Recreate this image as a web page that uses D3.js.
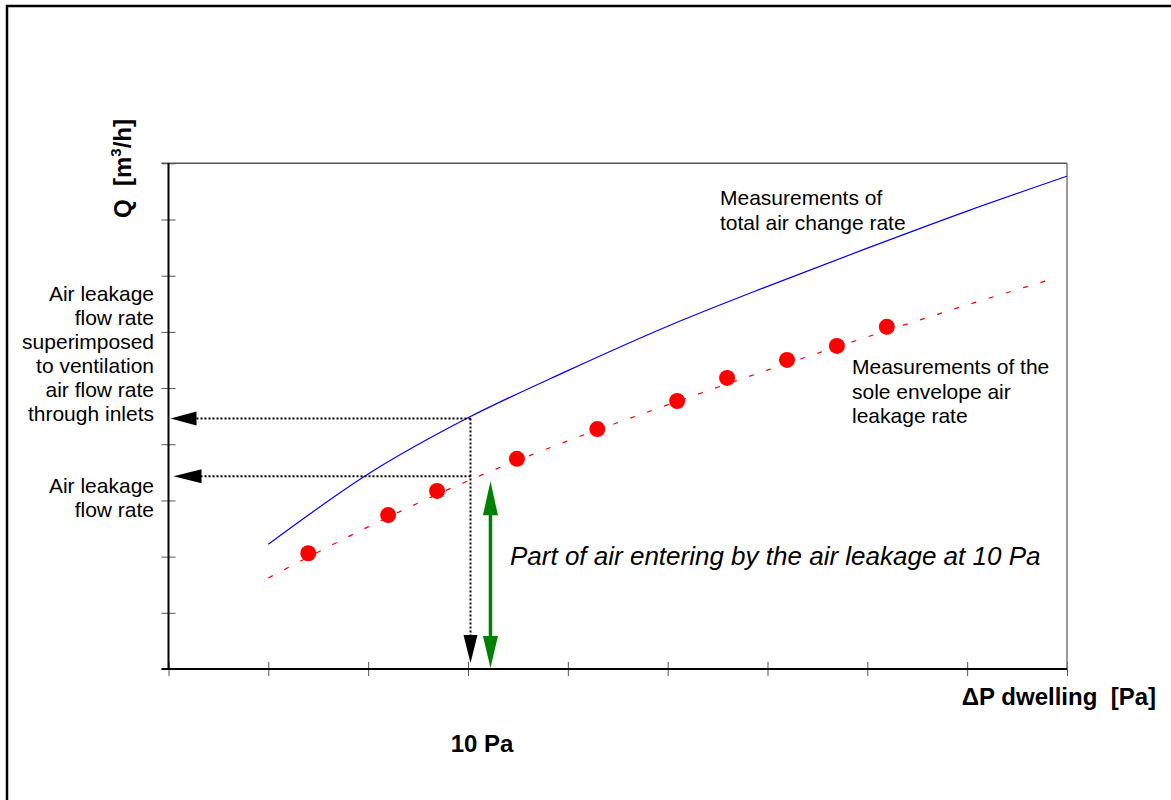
<!doctype html>
<html>
<head>
<meta charset="UTF-8">
<title>Air leakage at 10 Pa</title>
<script src="https://cdn.jsdelivr.net/npm/d3@7"></script>
<style>
  body { margin: 0; background: #fff; }
  text { font-family: "Liberation Sans", Arial, sans-serif; fill: #000; white-space: pre; }
</style>
</head>
<body>
<svg id="chart" width="1171" height="800"></svg>
<script>
// axis ticks (Pa and m3/h, arbitrary units)
var xTicks = [4, 6, 8, 10, 12, 14, 16, 18, 20, 22];
var yTicks = [0, 10, 20, 30, 40, 50, 60, 70, 80, 90];

// blue curve: total air change rate
var totalPa = [6, 8, 10, 12, 14, 16, 18, 20, 22];
var totalQ  = [22.2, 34.7, 44.7, 53.1, 61.0, 68.1, 74.9, 81.5, 87.7];

// red dashed fit: envelope leakage
var fitPa = [6, 8, 10, 12, 14, 16, 18, 20, 21.7];
var fitQ  = [16.2, 25.3, 33.5, 40.6, 47.0, 53.2, 59.1, 64.8, 69.4];

// red dots: envelope leakage measurements
var leakPa = [6.8, 8.4, 9.38, 10.98, 12.59, 14.19, 15.19, 16.39, 17.39, 18.39];
var leakQ  = [20.6, 27.4, 31.7, 37.4, 42.7, 47.7, 51.8, 55.0, 57.5, 60.9];

// reading at 10 Pa
var refPa = 10.05;
var totalAt10 = 44.6;
var leakAt10 = 34.3;
var greenPa = 10.45;
var greenTop = 33.4;

var svg = d3.select("#chart");

var x = d3.scaleLinear().domain([4, 22]).range([168.5, 1067]);
var y = d3.scaleLinear().domain([0, 90]).range([669, 163.3]);

// outer frame (top and left only)
svg.append("path")
   .attr("d", "M7,800V6H1171")
   .attr("fill", "none").attr("stroke", "#000").attr("stroke-width", 2.5);

// ticks crossing the axes
[7, -7].forEach(function(s){
  svg.append("g").attr("transform", "translate(0," + y(0) + ")")
     .call(d3.axisBottom(x).tickValues(xTicks).tickSize(s).tickFormat(""))
     .call(function(g){ g.select(".domain").remove(); })
     .selectAll("line").attr("stroke", "#555");
  svg.append("g").attr("transform", "translate(" + x(4) + ",0)")
     .call(d3.axisLeft(y).tickValues(yTicks).tickSize(s).tickFormat(""))
     .call(function(g){ g.select(".domain").remove(); })
     .selectAll("line").attr("stroke", "#555");
});

// plot box
svg.append("line").attr("x1", x(4) - 7).attr("x2", x(22)).attr("y1", y(90)).attr("y2", y(90))
   .attr("stroke", "#555").attr("stroke-width", 1.5);
svg.append("line").attr("x1", x(22)).attr("x2", x(22)).attr("y1", y(90)).attr("y2", y(0))
   .attr("stroke", "#777").attr("stroke-width", 1.5);
svg.append("line").attr("x1", x(4)).attr("x2", x(4)).attr("y1", y(90)).attr("y2", y(0))
   .attr("stroke", "#000").attr("stroke-width", 2);
svg.append("line").attr("x1", x(4) - 7).attr("x2", x(22)).attr("y1", y(0)).attr("y2", y(0))
   .attr("stroke", "#000").attr("stroke-width", 2);

// curves
var line = d3.line().x(function(d){ return x(d[0]); }).y(function(d){ return y(d[1]); })
             .curve(d3.curveMonotoneX);

svg.append("path").datum(d3.zip(totalPa, totalQ))
   .attr("d", line).attr("fill", "none").attr("stroke", "#0000ff").attr("stroke-width", 1.2);

svg.append("path").datum(d3.zip(fitPa, fitQ))
   .attr("d", line).attr("fill", "none").attr("stroke", "#ff0000").attr("stroke-width", 1.2)
   .attr("stroke-dasharray", "5,13");

svg.selectAll("circle.leak").data(d3.zip(leakPa, leakQ)).enter()
   .append("circle").attr("class", "leak")
   .attr("cx", function(d){ return x(d[0]); })
   .attr("cy", function(d){ return y(d[1]); })
   .attr("r", 8).attr("fill", "#ff0000");

// dotted reading lines
var dot = { stroke: "#000", "stroke-width": 2, "stroke-dasharray": "2,2" };
function dotted(x1, y1, x2, y2){
  var l = svg.append("line").attr("x1", x1).attr("y1", y1).attr("x2", x2).attr("y2", y2);
  for (var k in dot) l.attr(k, dot[k]);
}
dotted(x(4) + 28, y(totalAt10), x(refPa), y(totalAt10));
dotted(x(4) + 32, y(leakAt10), x(refPa), y(leakAt10));
dotted(x(refPa), y(totalAt10), x(refPa), y(0) - 34);

function tri(points, fill){
  svg.append("path").attr("d", "M" + points.join("L") + "Z").attr("fill", fill);
}
// left-pointing arrows on the Q axis
tri([[x(4) + 2, y(totalAt10)], [x(4) + 28, y(totalAt10) - 7], [x(4) + 28, y(totalAt10) + 7]], "#000");
tri([[x(4) + 5, y(leakAt10)], [x(4) + 33, y(leakAt10) - 7], [x(4) + 33, y(leakAt10) + 7]], "#000");
// down arrow at 10 Pa
tri([[x(refPa), y(0) - 6], [x(refPa) - 7, y(0) - 34], [x(refPa) + 7, y(0) - 34]], "#000");

// green double arrow
var gx = x(greenPa);
svg.append("line").attr("x1", gx).attr("x2", gx).attr("y1", y(greenTop) + 20).attr("y2", y(0) - 20)
   .attr("stroke", "#008000").attr("stroke-width", 3.5);
tri([[gx, y(greenTop)], [gx - 7.5, y(greenTop) + 34], [gx + 7.5, y(greenTop) + 34]], "#008000");
tri([[gx, y(0) - 1], [gx - 7.5, y(0) - 33], [gx + 7.5, y(0) - 33]], "#008000");

// texts
function lines(arr, tx, ty, step, anchor, size){
  var t = svg.append("text").attr("x", tx).attr("y", ty)
             .attr("text-anchor", anchor).attr("font-size", size);
  arr.forEach(function(s, i){
    t.append("tspan").attr("x", tx).attr("dy", i ? step : 0).text(s);
  });
}
lines(["Air leakage", "flow rate", "superimposed", "to ventilation", "air flow rate", "through inlets"],
      154, 301, 24, "end", 21);
lines(["Air leakage", "flow rate"], 154, 493, 23.5, "end", 21);
lines(["Measurements of", "total air change rate"], 720, 205, 25, "start", 21);
lines(["Measurements of the", "sole envelope air", "leakage rate"], 852, 374, 24.5, "start", 21);

svg.append("text").attr("x", 510).attr("y", 565).attr("font-size", 26)
   .attr("font-style", "italic").text("Part of air entering by the air leakage at 10 Pa");

svg.append("text").attr("x", 1156).attr("y", 705).attr("text-anchor", "end")
   .attr("font-size", 24).attr("font-weight", "bold").text("\u0394P dwelling  [Pa]");

svg.append("text").attr("x", 482).attr("y", 752).attr("text-anchor", "middle")
   .attr("font-size", 24).attr("font-weight", "bold").text("10 Pa");

var qt = svg.append("text").attr("transform", "translate(131,218) rotate(-90)")
            .attr("font-size", 24).attr("font-weight", "bold");
qt.append("tspan").text("Q  [m");
qt.append("tspan").attr("dy", -10).attr("font-size", 15).text("3");
qt.append("tspan").attr("dy", 10).text("/h]");
</script>
</body>
</html>
